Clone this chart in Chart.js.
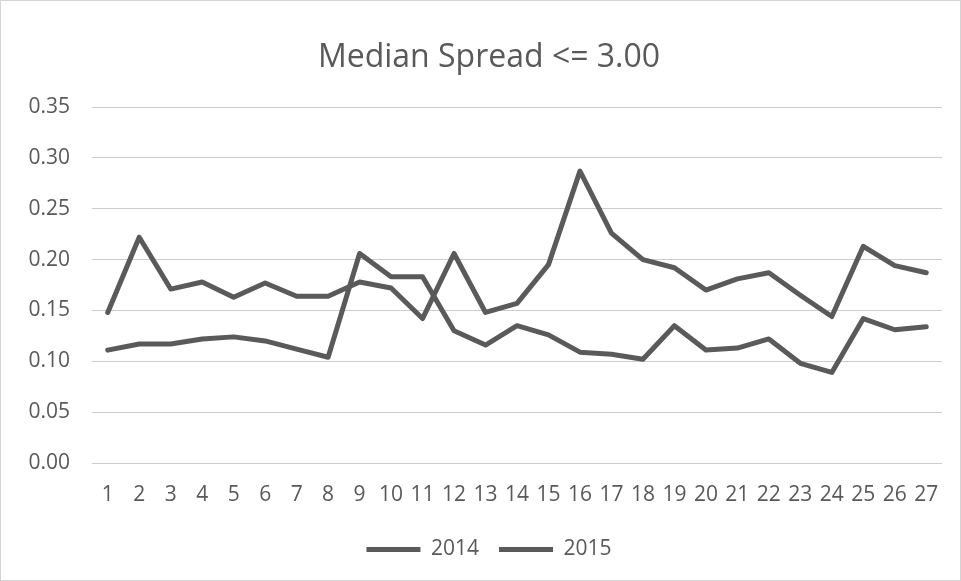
<!DOCTYPE html>
<html>
<head>
<meta charset="utf-8">
<script src="https://cdn.jsdelivr.net/npm/chart.js@4/dist/chart.umd.min.js"></script>
<style>
  html, body { margin: 0; padding: 0; background: #fff; }
  #wrap { position: relative; width: 961px; height: 581px; }
  #c { position: absolute; left: 0; top: 0; }
  #frame { position: absolute; left: 0; top: 0; width: 961px; height: 581px; box-sizing: border-box; border: 1px solid #d4d4d4; pointer-events: none; }
</style>
</head>
<body>
<div id="wrap">
  <canvas id="c" width="961" height="581"></canvas>
  <div id="frame"></div>
</div>
<script>
const categories = ["1","2","3","4","5","6","7","8","9","10","11","12","13","14","15","16","17","18","19","20","21","22","23","24","25","26","27"];
const seriesNames = ["2014", "2015"];
const values2014 = [0.148,0.222,0.171,0.178,0.163,0.177,0.164,0.164,0.178,0.172,0.142,0.206,0.148,0.157,0.195,0.287,0.226,0.200,0.192,0.170,0.181,0.187,0.165,0.144,0.213,0.194,0.187];
const values2015 = [0.111,0.117,0.117,0.122,0.124,0.120,0.112,0.104,0.206,0.183,0.183,0.130,0.116,0.135,0.126,0.109,0.107,0.102,0.135,0.111,0.113,0.122,0.098,0.089,0.142,0.131,0.134];
const yTicks = [0, 0.05, 0.10, 0.15, 0.20, 0.25, 0.30, 0.35];
const titleText = "Median Spread <= 3.00";

const lineColor = "#5a5a5a";
const textColor = "#595959";
const FONT = "'Open Sans', sans-serif";

new Chart(document.getElementById("c"), {
  type: "line",
  data: {
    labels: categories,
    datasets: [
      { label: seriesNames[0], data: values2014, borderColor: lineColor, backgroundColor: lineColor, borderWidth: 5, pointRadius: 0, tension: 0, borderJoinStyle: "round", borderCapStyle: "round" },
      { label: seriesNames[1], data: values2015, borderColor: lineColor, backgroundColor: lineColor, borderWidth: 5, pointRadius: 0, tension: 0, borderJoinStyle: "round", borderCapStyle: "round" }
    ]
  },
  options: {
    responsive: false,
    animation: false,
    events: [],
    layout: { padding: { left: 36, right: 19, top: 0, bottom: 11 } },
    plugins: {
      tooltip: { enabled: false },
      title: {
        display: true,
        text: titleText,
        color: textColor,
        font: { family: FONT, size: 32, weight: "normal" },
        padding: { top: 39, bottom: 29.6 }
      },
      legend: {
        display: true,
        position: "bottom",
        labels: {
          color: textColor,
          font: { family: FONT, size: 21 },
          boxWidth: 54,
          boxHeight: 5,
          padding: 20,
          generateLabels: (chart) => chart.data.datasets.map((ds, i) => ({
            text: ds.label,
            fillStyle: lineColor,
            strokeStyle: lineColor,
            lineWidth: 0,
            fontColor: textColor,
            datasetIndex: i,
            hidden: false
          }))
        }
      }
    },
    scales: {
      x: {
        type: "category",
        offset: true,
        grid: { display: false, drawTicks: false },
        border: { display: false },
        ticks: { color: textColor, font: { family: FONT, size: 21 }, padding: 19, maxRotation: 0, autoSkip: false },
        afterFit: (s) => { s.height = 56; }
      },
      y: {
        min: 0,
        max: 0.35,
        afterBuildTicks: (s) => { s.ticks = yTicks.map(v => ({ value: v })); },
        grid: { color: "#cccccc", lineWidth: 1, drawTicks: false },
        border: { display: false },
        ticks: { color: textColor, font: { family: FONT, size: 21 }, padding: 22, callback: (v) => Number(v).toFixed(2) },
        afterFit: (s) => { s.width = 56; s._computeLabelArea = () => undefined; }
      }
    }
  }
});
</script>
</body>
</html>
